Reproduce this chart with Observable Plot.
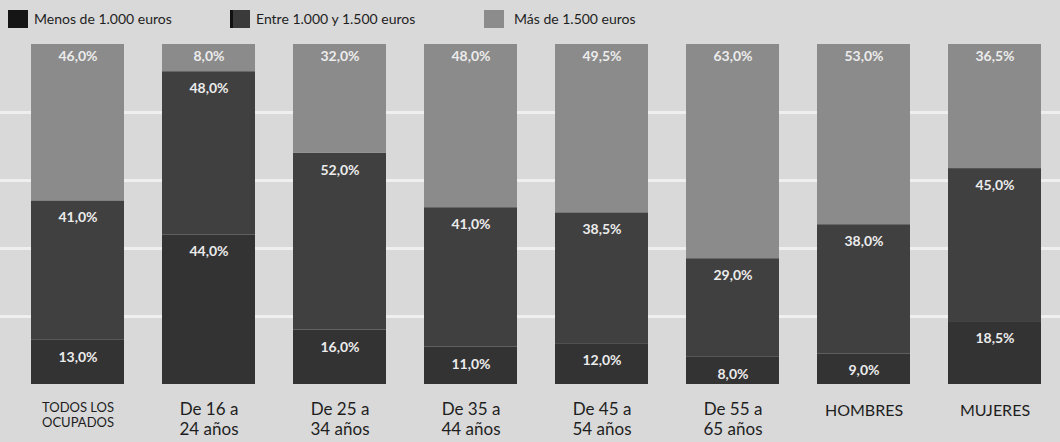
<!DOCTYPE html>
<html>
<head>
<meta charset="utf-8">
<script src="https://cdn.jsdelivr.net/npm/d3@7"></script>
<script src="https://cdn.jsdelivr.net/npm/@observablehq/plot@0.6"></script>
<style>
  html, body { margin: 0; padding: 0; background: #d9d9d9; }
  #legend { position: relative; width: 1060px; height: 40px; font-family: "Liberation Sans Narrow", Lato, sans-serif; font-size: 14px; color: #1e1e1e; }
  #legend .sw { position: absolute; top: 10px; width: 20px; height: 18px; }
  #legend .lb { position: absolute; top: 10px; line-height: 18px; white-space: nowrap; }
  #chart svg { display: block; }
</style>
</head>
<body>
<div id="legend"></div>
<div id="chart"></div>
<script>
const categories = ["TODOS LOS\nOCUPADOS", "De 16 a\n24 años", "De 25 a\n34 años", "De 35 a\n44 años", "De 45 a\n54 años", "De 55 a\n65 años", "HOMBRES", "MUJERES"];
const series = ["Menos de 1.000 euros", "Entre 1.000 y 1.500 euros", "Más de 1.500 euros"];
const menos = [13, 44, 16, 11, 12, 8, 9, 18.5];
const entre = [41, 48, 52, 41, 38.5, 29, 38, 45];
const mas = [46, 8, 32, 48, 49.5, 63, 53, 36.5];
const barColors = ["#333333", "#404040", "#8b8b8b"];
const legendColors = ["#151515", "#3a3a3a", "#8c8c8c"];

// legend
const legendPos = [[8, 34], [230, 256], [484, 514]];
const legend = document.getElementById("legend");
series.forEach((s, i) => {
  const sw = document.createElement("div");
  sw.className = "sw";
  sw.style.left = legendPos[i][0] + "px";
  sw.style.background = legendColors[i];
  if (i === 1) { sw.style.borderLeft = "3px solid #111"; sw.style.width = "17px"; }
  legend.appendChild(sw);
  const lb = document.createElement("div");
  lb.className = "lb";
  lb.style.left = legendPos[i][1] + "px";
  lb.textContent = s;
  legend.appendChild(lb);
});

// rows
const values = [menos, entre, mas];
const rows = [];
categories.forEach((c, i) => {
  let base = 0;
  series.forEach((s, k) => {
    const v = values[k][i];
    rows.push({cat: c, serie: s, k, value: v, y1: base, y2: base + v});
    base += v;
  });
});
const fmt = v => v.toFixed(1).replace(".", ",") + "%";

const twoLine = categories.filter((c, i) => i >= 1 && i <= 5);
const first = categories.filter((c, i) => i === 0);
const single = categories.filter((c, i) => i >= 6);

const chart = Plot.plot({
  width: 1060,
  height: 402,
  marginTop: 4,
  marginBottom: 58,
  marginLeft: 30,
  marginRight: 17,
  style: {background: "transparent", fontFamily: "Lato, sans-serif"},
  x: {domain: categories, paddingInner: 0.29, paddingOuter: 0, axis: null},
  y: {domain: [0, 100], axis: null},
  color: {domain: series, range: barColors},
  marks: [
    Plot.ruleY([20, 40, 60, 80], {stroke: "#f4f4f4", strokeWidth: 3, strokeOpacity: 0.8, insetLeft: -30, insetRight: -17}),
    Plot.rectY(rows, {x: "cat", y1: "y1", y2: "y2", fill: "serie"}),
    Plot.text(rows.filter(d => d.k === 2), {x: "cat", y: "y2", text: d => fmt(d.value), dy: 12, fill: "#ececec", fontWeight: "bold", fontSize: 14}),
    Plot.text(rows.filter(d => d.k !== 2), {x: "cat", y: "y2", text: d => fmt(d.value), dy: 17, fill: "#ececec", fontWeight: "bold", fontSize: 14}),
    Plot.text(first, {x: d => d, y: 0, text: d => d, dy: 30, fontSize: 13, lineHeight: 1.2, fill: "#1e1e1e"}),
    Plot.text(twoLine, {x: d => d, y: 0, text: d => d, dy: 34, fontSize: 17, lineHeight: 1.18, fill: "#1e1e1e"}),
    Plot.text(single, {x: d => d, y: 0, text: d => d, dy: 26, fontSize: 16, fill: "#1e1e1e"})
  ]
});
document.getElementById("chart").appendChild(chart);
</script>
</body>
</html>
